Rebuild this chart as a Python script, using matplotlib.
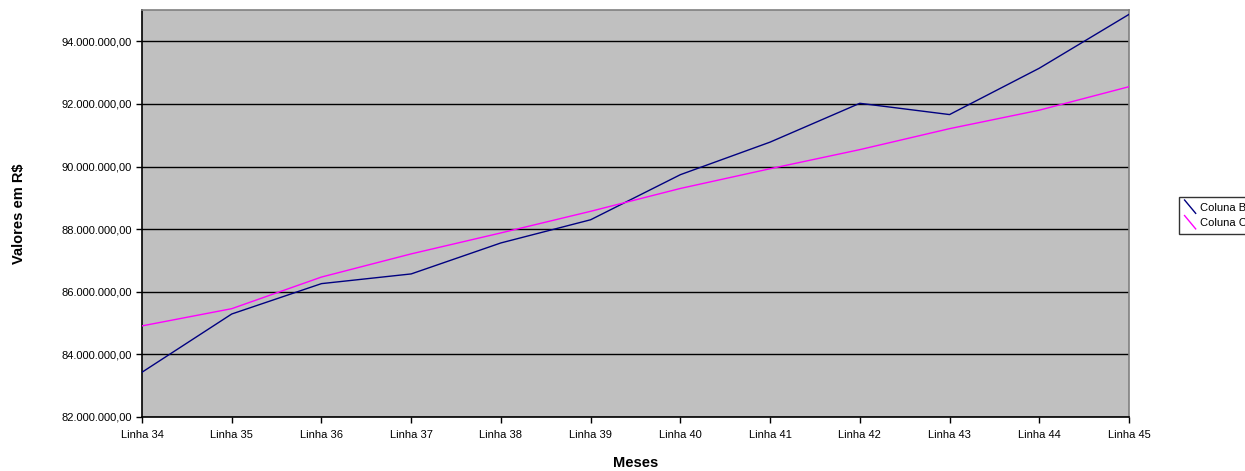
import matplotlib
matplotlib.use("Agg")
import matplotlib.pyplot as plt
from matplotlib.lines import Line2D
from matplotlib.legend_handler import HandlerLine2D
from matplotlib.ticker import FuncFormatter

plt.rcParams['font.family'] = ['Liberation Sans', 'DejaVu Sans']

meses = ["Linha 34", "Linha 35", "Linha 36", "Linha 37", "Linha 38", "Linha 39",
         "Linha 40", "Linha 41", "Linha 42", "Linha 43", "Linha 44", "Linha 45"]
coluna_b = [83.43, 85.29, 86.26, 86.57, 87.56, 88.30, 89.74, 90.78, 92.02, 91.66, 93.14, 94.86]
coluna_c = [84.91, 85.46, 86.47, 87.21, 87.88, 88.57, 89.30, 89.93, 90.54, 91.21, 91.80, 92.55]
coluna_b = [v * 1e6 for v in coluna_b]
coluna_c = [v * 1e6 for v in coluna_c]


class DiagonalHandler(HandlerLine2D):
    # excel style legend key: a diagonal stroke
    def create_artists(self, legend, orig_handle, xdescent, ydescent, width, height, fontsize, trans):
        ln = Line2D([-xdescent, -xdescent + width], [height - ydescent + 2, -ydescent - 2],
                    color=orig_handle.get_color(), lw=orig_handle.get_linewidth())
        ln.set_transform(trans)
        return [ln]


def fmt_br(v, pos):
    s = f"{v:,.2f}"
    return s.replace(",", "X").replace(".", ",").replace("X", ".")


fig = plt.figure(figsize=(12.45, 4.71), dpi=100)
ax = fig.add_axes([142 / 1245, 1 - 417 / 471, (1129 - 142) / 1245, (417 - 10) / 471])
ax.set_facecolor("#C0C0C0")

x = list(range(len(meses)))
lb, = ax.plot(x, coluna_b, color="#000080", lw=1, label="Coluna B", zorder=3)
lc, = ax.plot(x, coluna_c, color="#FF00FF", lw=1, label="Coluna C", zorder=3)

ax.set_xlim(0, len(meses) - 1)
ax.set_ylim(82e6, 95e6)
ax.set_yticks([82e6 + 2e6 * i for i in range(7)])
ax.yaxis.set_major_formatter(FuncFormatter(fmt_br))
ax.set_xticks(x)
ax.set_xticklabels(meses)
ax.grid(axis="y", color="black", lw=1, zorder=1)
ax.tick_params(axis="both", labelsize=8, direction="out", length=4, width=1, color="black")
ax.tick_params(axis="x", pad=5)

for s in ["left", "bottom"]:
    ax.spines[s].set_color("black")
    ax.spines[s].set_linewidth(1.2)
for s in ["top", "right"]:
    ax.spines[s].set_color("#808080")
    ax.spines[s].set_linewidth(1.2)

ax.set_xlabel("Meses", fontsize=10.5, fontweight="bold", labelpad=12)
ax.set_ylabel("Valores em R$", fontsize=10.5, fontweight="bold", labelpad=25)

fig.legend(handles=[lb, lc], loc="upper left", bbox_to_anchor=(1179 / 1245, 1 - 197 / 471),
           fontsize=8, frameon=True, fancybox=False, edgecolor="black",
           handler_map={Line2D: DiagonalHandler()}, handlelength=1.0, handletextpad=0.4,
           borderpad=0.5, labelspacing=0.5, borderaxespad=0)

fig.savefig("out.png", dpi=100)
